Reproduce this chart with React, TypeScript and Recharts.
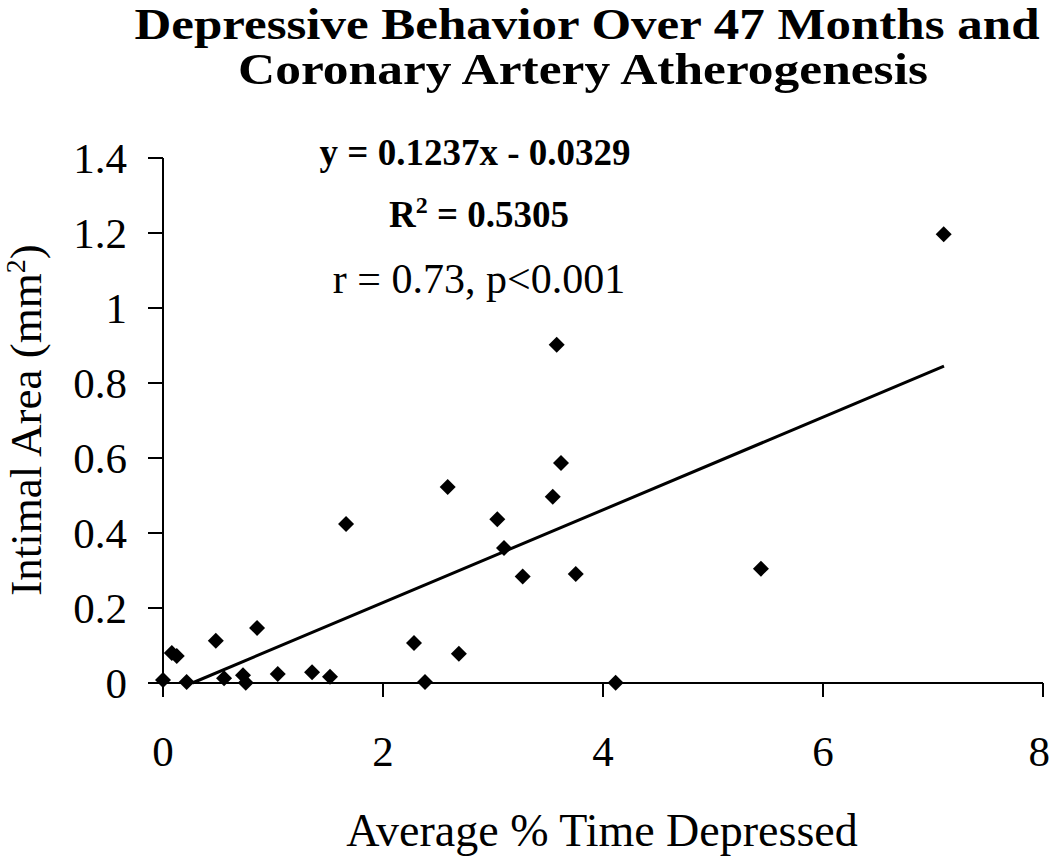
import React from 'react';
import { ScatterChart, Scatter, XAxis, YAxis } from 'recharts';

// % time depressed (x) vs intimal area in mm2 (y)
const pctTimeDepressed = [
  0, 0.08, 0.125, 0.215, 0.48, 0.555, 0.727, 0.752, 0.855, 1.043, 1.355, 1.518, 1.664,
  2.282, 2.382, 2.69, 2.588, 3.039, 3.1, 3.27, 3.543, 3.579, 3.618, 3.752, 4.115, 5.436, 7.097,
];
const intimalArea = [
  0.008, 0.08, 0.072, 0.003, 0.113, 0.013, 0.021, 0.001, 0.147, 0.024, 0.029, 0.017, 0.424,
  0.107, 0.003, 0.078, 0.523, 0.437, 0.36, 0.284, 0.497, 0.902, 0.587, 0.291, 0.001, 0.305, 1.197,
];

// fitted line end points (y = 0.1237x - 0.0329)
const trendX = [0.266, 7.1];
const trendY = [0, 0.845];

const xTicks = [0, 2, 4, 6, 8];
const yTicks = [0, 0.2, 0.4, 0.6, 0.8, 1, 1.2, 1.4];

const points = pctTimeDepressed.map((x, i) => ({ x, y: intimalArea[i] }));
const trend = trendX.map((x, i) => ({ x, y: trendY[i] }));

const serif = '"Liberation Serif", "Times New Roman", serif';

const Diamond = (props: any) => {
  const { cx, cy } = props;
  const r = 8;
  return <path d={`M${cx},${cy - r}L${cx + r},${cy}L${cx},${cy + r}L${cx - r},${cy}Z`} fill="#000" />;
};

export default function App() {
  return (
    <div style={{ position: 'absolute', left: 0, top: 0, width: 1050, height: 858, background: '#fff' }}>
      <ScatterChart
        width={1050}
        height={858}
        margin={{ top: 158, right: 7, bottom: 145, left: 103 }}
      >
        <XAxis
          type="number"
          dataKey="x"
          domain={[0, 8]}
          ticks={xTicks}
          height={30}
          axisLine={{ stroke: '#000', strokeWidth: 2 }}
          tickLine={{ stroke: '#000', strokeWidth: 2 }}
          tickSize={14}
          tickMargin={38}
          tick={{ fill: '#000', fontSize: 43, fontFamily: serif }}
        />
        <YAxis
          type="number"
          dataKey="y"
          domain={[0, 1.4]}
          ticks={yTicks}
          width={60}
          axisLine={{ stroke: '#000', strokeWidth: 2 }}
          tickLine={{ stroke: '#000', strokeWidth: 2 }}
          tickSize={15}
          tickMargin={21}
          tick={{ fill: '#000', fontSize: 43, fontFamily: serif }}
        />
        <Scatter
          data={trend}
          line={{ stroke: '#000', strokeWidth: 3 }}
          shape={() => <g />}
          isAnimationActive={false}
        />
        <Scatter data={points} shape={Diamond} isAnimationActive={false} />
      </ScatterChart>

      <svg
        width={1050}
        height={858}
        style={{ position: 'absolute', left: 0, top: 0, pointerEvents: 'none' }}
        fontFamily={serif}
      >
        <text x={587} y={39} textAnchor="middle" fontSize={45} fontWeight="bold"
          textLength={905} lengthAdjust="spacingAndGlyphs">
          Depressive Behavior Over 47 Months and
        </text>
        <text x={583} y={84} textAnchor="middle" fontSize={45} fontWeight="bold"
          textLength={690} lengthAdjust="spacingAndGlyphs">
          Coronary Artery Atherogenesis
        </text>

        <text x={475} y={165} textAnchor="middle" fontSize={37} fontWeight="bold">
          y = 0.1237x - 0.0329
        </text>
        <text x={479} y={227} textAnchor="middle" fontSize={37} fontWeight="bold">
          R<tspan dy={-14} fontSize={24}>2</tspan>
          <tspan dy={14}> = 0.5305</tspan>
        </text>
        <text x={479} y={293} textAnchor="middle" fontSize={42}>
          r = 0.73, p&lt;0.001
        </text>

        <text x={602} y={846} textAnchor="middle" fontSize={46}>
          Average % Time Depressed
        </text>
        <text x={41} y={420} textAnchor="middle" fontSize={45} transform="rotate(-90 41 420)">
          Intimal Area (mm<tspan dy={-16} fontSize={28}>2</tspan>
          <tspan dy={16}>)</tspan>
        </text>
      </svg>
    </div>
  );
}
